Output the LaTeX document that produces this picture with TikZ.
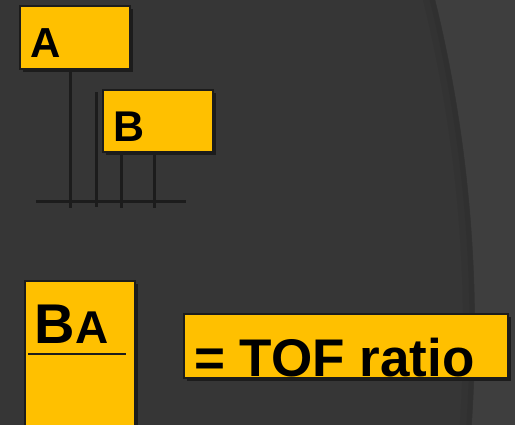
\documentclass[tikz,border=0pt]{standalone}
\usepackage{fontspec}
\setmainfont{Liberation Sans}
\usetikzlibrary{positioning,shadows}

\definecolor{slide}{HTML}{363636}
\definecolor{slideedge}{HTML}{3E3E3E}
\definecolor{gold}{HTML}{FFC000}
\definecolor{ink}{HTML}{1C1C1C}

\tikzset{
  card/.style={rectangle,draw=ink,line width=1.5pt,fill=gold,inner sep=0pt,
    general shadow={fill=ink,shadow xshift=3pt,shadow yshift=-3pt}},
  word/.style={anchor=base west,inner sep=0pt,text=black},
  wire/.style={draw=ink,line width=3pt},
}

\begin{document}
\begin{tikzpicture}[x=1pt,y=-1pt]
\useasboundingbox (0,0) rectangle (515,424);

% background and curved right panel
\fill[slide] (-3,-3) rectangle (518,428);
\begin{scope}
\clip (-3,-3) rectangle (518,428);
\fill[slideedge,even odd rule] (-3,-3) rectangle (518,428) (-906,330) circle (1381);
\draw[black,opacity=0.05,line width=12pt] (-906,330) circle (1375);
\draw[black,opacity=0.05,line width=5pt] (-906,330) circle (1378);
\end{scope}

% boxes
\node[card,minimum width=110pt,minimum height=63pt] (boxA) at (75,37.5) {};
\node[card,minimum width=110pt,minimum height=62pt] (boxB) at (158,121) {};
\node[card,minimum width=110pt,minimum height=169pt] (boxBA) at (80,365.5) {};
\node[card,minimum width=324pt,minimum height=64pt] (boxTOF) at (346,346) {};

% texts
\node[word,font=\bfseries\fontsize{42}{42}\selectfont] (labA) at (30,57) {A};
\node[word,font=\bfseries\fontsize{43}{43}\selectfont] (labB) at (113,141) {B};
\node[word,font=\bfseries\fontsize{56}{56}\selectfont] (labBAb) at (34,343) {B};
\node[word,font=\bfseries\fontsize{46}{46}\selectfont] (labBAa) at (labBAb.base east) {A};
\node[word,font=\bfseries\fontsize{53}{53}\selectfont] (labTOF) at (194,376) {= TOF ratio};

% fraction bar
\draw[draw=ink,line width=2pt] (28,354) -- (126,354);

% stems and bus
\coordinate (busW) at (36,201);
\coordinate (busE) at (186,201);
\coordinate (stem) at (96,92);
\draw[wire] (busW) -- (busE);
\draw[wire] ([xshift=-5pt]boxA.south) -- ++(0,138);
\draw[wire] (stem) -- ++(0,115);
\draw[wire] ([xshift=-37pt]boxB.south) -- ++(0,55);
\draw[wire] ([xshift=-4pt]boxB.south) -- ++(0,55);

\end{tikzpicture}
\end{document}
